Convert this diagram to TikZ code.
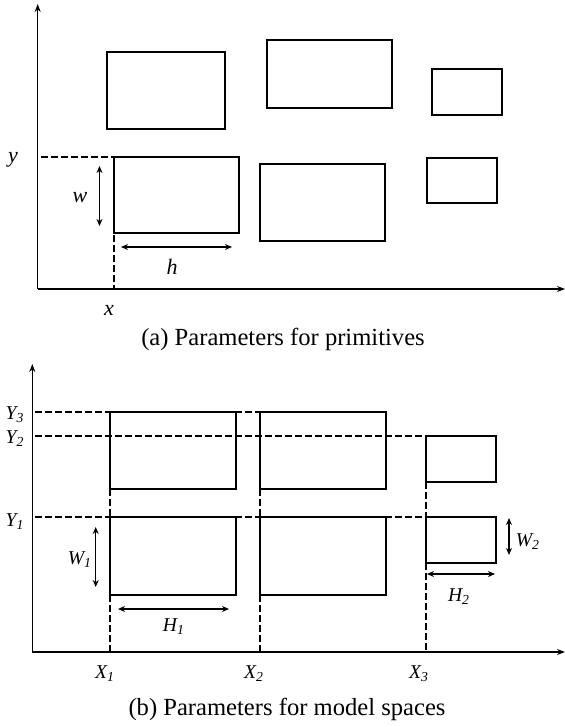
\documentclass[tikz,border=0pt]{standalone}
\usepackage{fontspec}
\setmainfont{Liberation Serif}
\usetikzlibrary{arrows.meta}

\tikzset{
  box/.style={line width=0.6pt},
  guide/.style={line width=0.6pt,dash pattern=on 3.3pt off 1.7pt},
  dim/.style={line width=0.6pt,{Stealth[length=3.5pt,width=3pt]}-{Stealth[length=3.5pt,width=3pt]}},
  axis/.style={line width=0.6pt,-{Stealth[length=4pt,width=3pt]}},
  biglbl/.style={font=\fontsize{11}{13}\selectfont\itshape,inner sep=0pt},
  smalllbl/.style={font=\fontsize{9.8}{11}\selectfont\itshape,inner sep=0pt},
  caption/.style={font=\fontsize{12.3}{14}\selectfont,inner sep=0pt}
}

\begin{document}
\begin{tikzpicture}[x=0.5pt,y=-0.5pt]
\useasboundingbox(0,0)rectangle(565,727);
% (a) primitives
\coordinate(ao)at(37.7,289);
\draw[axis](ao)--(37.7,4);
\draw[axis](ao)--(565,289);
\draw[box](107,52)rectangle(225,129)
(114,157)rectangle(239,233)
(267,40)rectangle(392,108)
(260,164)rectangle(385,241)
(432,69)rectangle(502,115)
(427,158)rectangle(497,203);
\draw[guide](41,157)--(175,157)
(114,235)--(114,289);
\coordinate(wt)at(99.5,166);
\coordinate(wb)at(99.5,226);
\coordinate(hl)at(121,247);
\coordinate(hr)at(232,247);
\draw[dim](wt)--(wb);
\draw[dim](hl)--(hr);
\node[biglbl](lw)at(80,198){w};
\node[biglbl](lh)at(172,267){h};
\node[biglbl](ly)at(13,160){y};
\node[biglbl](lx)at(109,310){x};
\node[caption](capa)at(283,339){(a) Parameters for primitives};
% (b) model spaces
\coordinate(bo)at(32.3,652);
\draw[axis](bo)--(32.3,364);
\draw[axis](bo)--(565,652);
\draw[box](110,412)rectangle(236,489)
(110,517)rectangle(236,595)
(260,412)rectangle(386,489)
(260,517)rectangle(386,595)
(426,436)rectangle(496,482)
(426,517)rectangle(496,563);
\draw[guide](35,412)--(323,412)
(35,436)--(460,436)
(35,517)--(460,517);
\foreach \gx in {110,260}{
\draw[guide](\gx,489)--(\gx,517)
(\gx,595)--(\gx,652);}
\draw[guide](426,482)--(426,517)
(426,563)--(426,652);
\coordinate(wat)at(95.7,527);
\coordinate(wab)at(95.7,587);
\coordinate(hal)at(118,609);
\coordinate(har)at(229,609);
\coordinate(wbt)at(509,518);
\coordinate(wbb)at(509,555);
\coordinate(hbl)at(427,574);
\coordinate(hbr)at(495,574);
\draw[dim](wat)--(wab);
\draw[dim](hal)--(har);
\draw[dim](wbt)--(wbb);
\draw[dim](hbl)--(hbr);
\node[smalllbl](lw1)at(80,560){W\textsubscript{1}};
\node[smalllbl](lh1)at(174,627){H\textsubscript{1}};
\node[smalllbl](lw2)at(528,542){W\textsubscript{2}};
\node[smalllbl](lh2)at(459,597){H\textsubscript{2}};
\node[smalllbl](ly3)at(15,415){Y\textsubscript{3}};
\node[smalllbl](ly2)at(15,439){Y\textsubscript{2}};
\node[smalllbl](ly1)at(15,522){Y\textsubscript{1}};
\node[smalllbl](lx1)at(105,674){X\textsubscript{1}};
\node[smalllbl](lx2)at(254,674){X\textsubscript{2}};
\node[smalllbl](lx3)at(419,674){X\textsubscript{3}};
\node[caption](capb)at(287,709){(b) Parameters for model spaces};
\end{tikzpicture}
\end{document}
